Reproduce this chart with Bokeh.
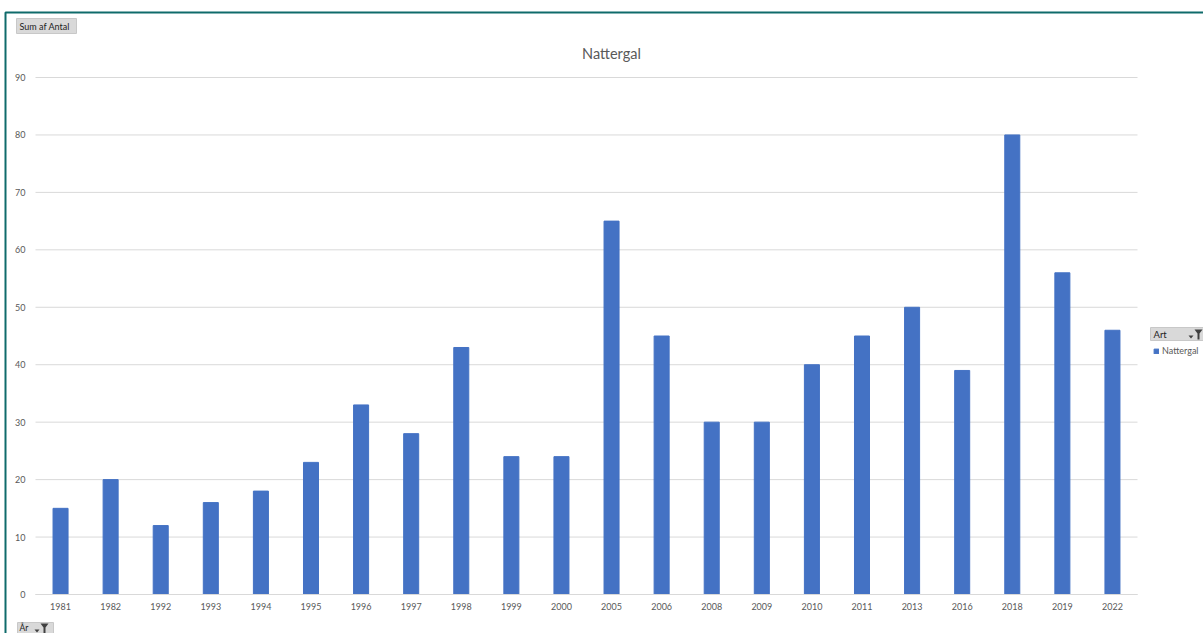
from bokeh.plotting import figure
from bokeh.models import (Range1d, Label, BoxAnnotation, PolyAnnotation, Legend,
                          LegendItem, ColumnDataSource, FixedTicker, LinearAxis)
from bokeh.embed import file_html
from bokeh.resources import INLINE

# ---- data ----
years = ["1981", "1982", "1992", "1993", "1994", "1995", "1996", "1997", "1998",
         "1999", "2000", "2005", "2006", "2008", "2009", "2010", "2011", "2013",
         "2016", "2018", "2019", "2022"]
counts = [15, 20, 12, 16, 18, 23, 33, 28, 43, 24, 24, 65, 45, 30, 30, 40, 45,
          50, 39, 80, 56, 46]
y_ticks = [0, 10, 20, 30, 40, 50, 60, 70, 80, 90]
chart_title = "Nattergal"
series_name = "Nattergal"
value_field = "Sum af Antal"
legend_field = "Art"
axis_field = "År"

FONT = "Lato"
GREY_TXT = "#595959"
GRID = "#d9d9d9"
BAR = "#4472C4"
TEAL = "#0f6b6b"
BTN = "#d9d9d9"

W, H = 1203, 633
# plot-area placement (pixels from top-left)
PL, PR, PT, PB = 35, 1137, 77, 594
n = len(years)
y_top = y_ticks[-1]
kx = (PR - PL) / n
ky = (PB - PT) / y_top
x_lo, x_hi = -0.5, n - 0.5
xr = Range1d(x_lo - PL / kx, x_hi + (W - PR) / kx)
yr = Range1d(-(H - PB) / ky, y_top + PT / ky)

idx = list(range(n))
src = ColumnDataSource(dict(i=idx, year=years, count=counts))

p = figure(x_range=xr, y_range=yr, width=W, height=H,
           output_backend="svg", toolbar_location=None,
           x_axis_location=None, y_axis_location=None, min_border=0)
p.center = []          # no default grids
p.outline_line_color = None
p.background_fill_color = "white"

# gridlines (bounded to the plot area)
p.segment(x0=[x_lo] * len(y_ticks), x1=[x_hi] * len(y_ticks), y0=y_ticks, y1=y_ticks,
          line_color=GRID, line_width=1)

r = p.vbar(x="i", top="count", width=0.3, source=src,
           fill_color=BAR, line_color=BAR)

# axes drawn inside the canvas at fixed locations
xaxis = LinearAxis(fixed_location=0, bounds=(x_lo, x_hi),
                   ticker=FixedTicker(ticks=idx),
                   major_label_overrides={i: y for i, y in zip(idx, years)})
xaxis.axis_line_color = GRID
xaxis.major_tick_line_color = None
xaxis.minor_tick_line_color = None
xaxis.major_tick_out = 0
xaxis.major_tick_in = 0
xaxis.minor_tick_out = 0
xaxis.major_label_standoff = 8
xaxis.major_label_text_font = FONT
xaxis.major_label_text_font_size = "9px"
xaxis.major_label_text_color = GREY_TXT
p.add_layout(xaxis, "below")

yaxis = LinearAxis(fixed_location=x_lo, bounds=(0, y_top),
                   ticker=FixedTicker(ticks=y_ticks))
yaxis.axis_line_color = None
yaxis.major_tick_line_color = None
yaxis.minor_tick_line_color = None
yaxis.major_tick_out = 0
yaxis.major_tick_in = 0
yaxis.minor_tick_out = 0
yaxis.major_label_standoff = 10
yaxis.major_label_text_font = FONT
yaxis.major_label_text_font_size = "9px"
yaxis.major_label_text_color = GREY_TXT
p.add_layout(yaxis, "left")


def sy(py):
    return H - py


def box(l, t, r_, b, **kw):
    return BoxAnnotation(left=l, right=r_, top=sy(t), bottom=sy(b),
                         left_units="screen", right_units="screen",
                         top_units="screen", bottom_units="screen", **kw)


def txt(x, y, text, **kw):
    base = dict(x_units="screen", y_units="screen", text_align="left",
                text_baseline="middle", text_font=FONT, text_font_size="9px",
                text_color="#1e1e1e")
    base.update(kw)
    return Label(x=x, y=sy(y), text=text, **base)


def funnel(x, y):
    # small dropdown arrow + filter funnel icon, x/y = top-left of icon
    arrow = PolyAnnotation(xs=[x, x + 5, x + 2.5], ys=[sy(y + 6), sy(y + 6), sy(y + 9)],
                           xs_units="screen", ys_units="screen",
                           fill_color="#404040", fill_alpha=1, line_color=None)
    fun = PolyAnnotation(xs=[x + 6, x + 14, x + 11, x + 11, x + 9, x + 9],
                         ys=[sy(y), sy(y), sy(y + 4), sy(y + 10), sy(y + 10), sy(y + 4)],
                         xs_units="screen", ys_units="screen",
                         fill_color="#404040", fill_alpha=1, line_color=None)
    return [arrow, fun]


# outer teal frame
p.add_layout(box(5, 12, W + 20, H + 20, fill_alpha=0, line_color=TEAL,
                 line_alpha=1, line_width=2))

# title
p.add_layout(txt(611, 53, chart_title, text_align="center", text_font_size="14.5px",
                 text_color=GREY_TXT))

# "Sum af Antal" field button
p.add_layout(box(16, 18, 76, 33, fill_color=BTN, fill_alpha=1,
                 line_color="#c8c8c8", line_alpha=1, line_width=1))
p.add_layout(txt(19, 25.5, value_field))

# "Art" field button
p.add_layout(box(1150, 327, W + 5, 340, fill_color=BTN, fill_alpha=1,
                 line_color="#c8c8c8", line_alpha=1, line_width=1))
p.add_layout(txt(1153, 333.5, legend_field, text_font_size="9.5px"))
for a in funnel(1188, 329):
    p.add_layout(a)

# "År" field button
p.add_layout(box(17, 622, 53, H + 10, fill_color=BTN, fill_alpha=1,
                 line_color="#c8c8c8", line_alpha=1, line_width=1))
p.add_layout(txt(19, 627, axis_field, text_font_size="8.5px"))
for a in funnel(34, 623):
    p.add_layout(a)

# legend
legend = Legend(items=[LegendItem(label=series_name, renderers=[r])],
                location=(1153, sy(356)),
                padding=0, margin=0, spacing=0,
                glyph_width=6, glyph_height=6, label_standoff=3,
                label_height=10, label_width=30,
                label_text_font=FONT, label_text_font_size="9px",
                label_text_color=GREY_TXT,
                border_line_color=None, background_fill_alpha=0)
p.add_layout(legend, "center")

open("out.html", "w").write(file_html(p, INLINE))
